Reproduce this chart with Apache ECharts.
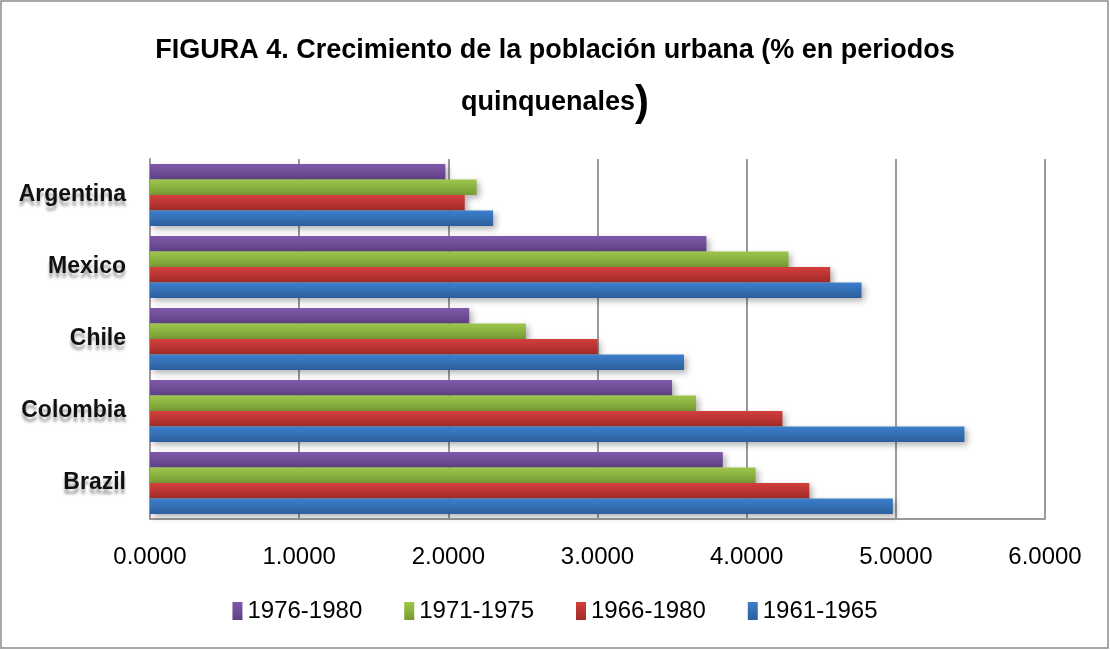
<!DOCTYPE html>
<html>
<head>
<meta charset="utf-8">
<script src="https://cdn.jsdelivr.net/npm/echarts@6/dist/echarts.min.js"></script>
<style>
  html, body { margin: 0; padding: 0; background: #fff; }
  #chart { width: 1110px; height: 650px; }
</style>
</head>
<body>
<div id="chart"></div>
<script>
// countries, bottom to top as drawn
var countries = ['Brazil', 'Colombia', 'Chile', 'Mexico', 'Argentina'];
// series order top to bottom inside each group (same as legend)
var periods = ['1976-1980', '1971-1975', '1966-1980', '1961-1965'];
var xTicks = [0, 1, 2, 3, 4, 5, 6];

var v1976 = [3.84, 3.50, 2.14, 3.73, 1.98];
var v1971 = [4.06, 3.66, 2.52, 4.28, 2.19];
var v1966 = [4.42, 4.24, 3.00, 4.56, 2.11];
var v1961 = [4.98, 5.46, 3.58, 4.77, 2.30];

var colors = [
    ['#8059aa', '#5f4183'],
    ['#9dc64c', '#779a33'],
    ['#d33f3c', '#a02b29'],
    ['#3c7fcc', '#2c5f9c']
];

function grad(c) {
    return new echarts.graphic.LinearGradient(0, 0, 0, 1, [
        { offset: 0, color: c[0] },
        { offset: 1, color: c[1] }
    ]);
}

var values = [v1976, v1971, v1966, v1961];
var series = periods.map(function (p, i) {
    return {
        name: p,
        type: 'bar',
        data: values[i],
        barGap: '0%',
        barCategoryGap: '14%',
        itemStyle: {
            color: grad(colors[i]),
            shadowColor: 'rgba(0,0,0,0.3)',
            shadowBlur: 6,
            shadowOffsetX: 3,
            shadowOffsetY: 3
        }
    };
});

var chart = echarts.init(document.getElementById('chart'));
chart.setOption({
    animation: false,
    color: colors.map(function (c) { return c[0]; }),
    graphic: [{
        type: 'rect',
        shape: { x: 1, y: 1, width: 1107, height: 647 },
        style: { fill: 'none', stroke: '#8c8c8c', lineWidth: 1.5 }
    }],
    title: {
        text: 'FIGURA 4. Crecimiento de la población urbana (% en periodos\nquinquenales{p|)}',
        left: 'center',
        top: 20,
        textStyle: {
            fontFamily: 'Liberation Sans',
            fontWeight: 'bold',
            fontSize: 27,
            color: '#000',
            lineHeight: 52,
            rich: {
                p: { fontFamily: 'Liberation Sans', fontSize: 42, fontWeight: 'bold', color: '#000' }
            }
        }
    },
    legend: {
        data: periods,
        bottom: 22,
        left: 'center',
        icon: 'rect',
        itemWidth: 10,
        itemHeight: 18,
        itemGap: 42,
        textStyle: { fontFamily: 'Liberation Sans', fontSize: 24, color: '#000' }
    },
    grid: { left: 150, right: 65, top: 159, bottom: 131 },
    xAxis: {
        type: 'value',
        min: xTicks[0],
        max: xTicks[xTicks.length - 1],
        interval: 1,
        axisLine: { show: true, lineStyle: { color: '#9a9a9a', width: 2 } },
        axisTick: { show: false },
        axisLabel: {
            margin: 26,
            fontFamily: 'Liberation Sans',
            fontSize: 24,
            color: '#000',
            formatter: function (v) { return v.toFixed(4); }
        },
        splitLine: { show: true, lineStyle: { color: '#9a9a9a', width: 2 } }
    },
    yAxis: {
        type: 'category',
        data: countries,
        axisLine: { show: true, lineStyle: { color: '#9a9a9a', width: 2 } },
        axisTick: { show: false },
        axisLabel: {
            margin: 24,
            fontFamily: 'Liberation Sans',
            fontWeight: 'bold',
            fontSize: 23,
            color: '#111',
            textShadowColor: 'rgba(0,0,0,0.35)',
            textShadowBlur: 3,
            textShadowOffsetY: 5
        }
    },
    series: series
});
</script>
</body>
</html>
